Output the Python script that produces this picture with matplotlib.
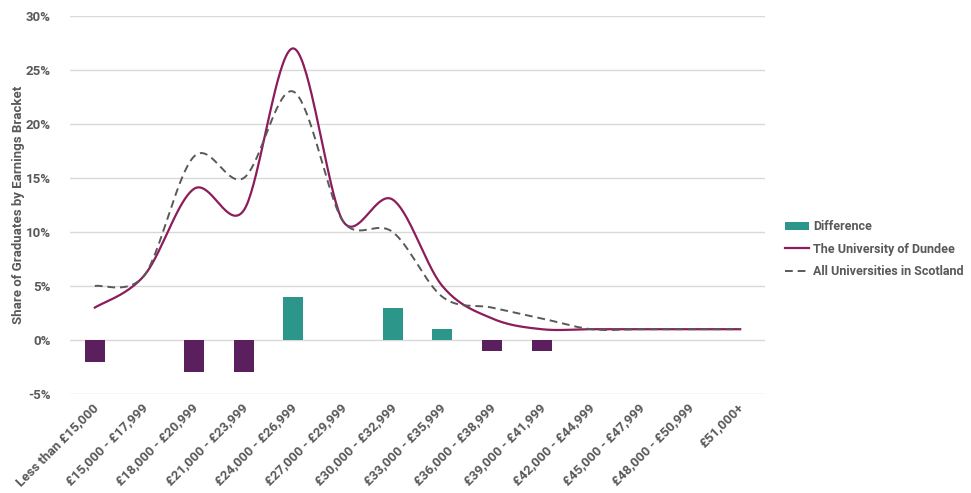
import numpy as np
import matplotlib
matplotlib.use("Agg")
import matplotlib.pyplot as plt
from matplotlib.patches import Patch
from matplotlib.lines import Line2D
from matplotlib.transforms import ScaledTranslation

plt.rcParams['font.family'] = ['Roboto', 'DejaVu Sans']

brackets = [
    "Less than £15,000", "£15,000 - £17,999", "£18,000 - £20,999",
    "£21,000 - £23,999", "£24,000 - £26,999", "£27,000 - £29,999",
    "£30,000 - £32,999", "£33,000 - £35,999", "£36,000 - £38,999",
    "£39,000 - £41,999", "£42,000 - £44,999", "£45,000 - £47,999",
    "£48,000 - £50,999", "£51,000+",
]
dundee = [3, 6, 14, 12, 27, 11, 13, 5, 2, 1, 1, 1, 1, 1]
scotland = [5, 6, 17, 15, 23, 11, 10, 4, 3, 2, 1, 1, 1, 1]
difference = [d - s for d, s in zip(dundee, scotland)]

C_TEAL = "#2c968b"
C_PURPLE = "#5b1f5e"
C_DUNDEE = "#8c1c5b"
C_GREY = "#595959"
C_TEXT = "#595959"

# pixel size of one unit along each axis, used to shape the smoothing
PX_X = 695 / 14
PX_Y = 378 / 35


def smooth(y, n=40):
    """Bezier smoothing through every point, with tangents limited to half
    of the shorter neighbouring segment (measured on screen)."""
    y = np.asarray(y, dtype=float)
    pts = np.column_stack([np.arange(len(y)) * PX_X, y * PX_Y])
    m = len(pts)
    tang = np.zeros_like(pts)
    for i in range(m):
        prv = pts[max(i - 1, 0)]
        nxt = pts[min(i + 1, m - 1)]
        v = (nxt - prv) / 6.0
        if 0 < i < m - 1:
            d_prev = np.linalg.norm(pts[i] - prv)
            d_next = np.linalg.norm(nxt - pts[i])
            lim = min(d_prev, d_next) / 2.0
            L = np.linalg.norm(v)
            if L > lim and L > 0:
                v = v * lim / L
        tang[i] = v
    xs, ys = [], []
    t = np.linspace(0, 1, n)[:, None]
    for i in range(m - 1):
        p0, p3 = pts[i], pts[i + 1]
        p1, p2 = p0 + tang[i], p3 - tang[i + 1]
        b = ((1 - t) ** 3) * p0 + 3 * ((1 - t) ** 2) * t * p1 \
            + 3 * (1 - t) * t ** 2 * p2 + t ** 3 * p3
        xs.append(b[:, 0] / PX_X)
        ys.append(b[:, 1] / PX_Y)
    return np.concatenate(xs), np.concatenate(ys)


fig = plt.figure(figsize=(9.71, 4.93), dpi=100)
ax = fig.add_axes([70 / 971, 1 - 394 / 493, 695 / 971, 378 / 493])

pos = np.arange(len(brackets))
bar_colors = [C_TEAL if v >= 0 else C_PURPLE for v in difference]
ax.bar(pos, difference, width=0.4, color=bar_colors, zorder=2)

xd, yd = smooth(dundee)
ax.plot(xd, yd, color=C_DUNDEE, lw=1.6, zorder=3)
xsc, ysc = smooth(scotland)
ax.plot(xsc, ysc, color=C_GREY, lw=1.4, ls=(0, (4, 2.5)), zorder=3)

ax.set_xlim(-0.5, len(brackets) - 0.5)
ax.set_ylim(-5, 30)
ax.set_yticks(range(-5, 31, 5))
ax.set_yticklabels([f"{v}%" for v in range(-5, 31, 5)])
ax.yaxis.grid(True, color="#d9d9d9", lw=1)
ax.set_axisbelow(True)
for s in ax.spines.values():
    s.set_visible(False)
ax.tick_params(axis="both", length=0, colors=C_TEXT, labelsize=9.5)
ax.tick_params(axis="y", pad=14)
ax.tick_params(axis="x", pad=5)
ax.set_xticks(pos)
ax.set_xticklabels(brackets, rotation=45, ha="right", rotation_mode="anchor",
                   fontweight="bold")
shift = ScaledTranslation(-3 / 100, 0, fig.dpi_scale_trans)
for lbl in ax.get_xticklabels():
    lbl.set_transform(lbl.get_transform() + shift)
for lbl in ax.get_yticklabels():
    lbl.set_fontweight("bold")

ax.set_ylabel("Share of Graduates by Earnings Bracket", fontsize=9.5,
              fontweight="bold", color=C_TEXT)
ax.yaxis.set_label_coords(-0.065, 0.5)

handles = [
    Patch(facecolor=C_TEAL, label="Difference"),
    Line2D([], [], color=C_DUNDEE, lw=1.6, label="The University of Dundee"),
    Line2D([], [], color=C_GREY, lw=1.4, ls=(0, (4, 2.5)),
           label="All Universities in Scotland"),
]
leg = fig.legend(handles=handles, loc="upper left",
                 bbox_to_anchor=(774 / 971, 1 - 209 / 493), frameon=False,
                 handlelength=1.9, handletextpad=0.3, labelspacing=0.75,
                 prop={"weight": "bold", "size": 9})
for t in leg.get_texts():
    t.set_color(C_TEXT)

fig.savefig("out.png", dpi=100, facecolor="white")
